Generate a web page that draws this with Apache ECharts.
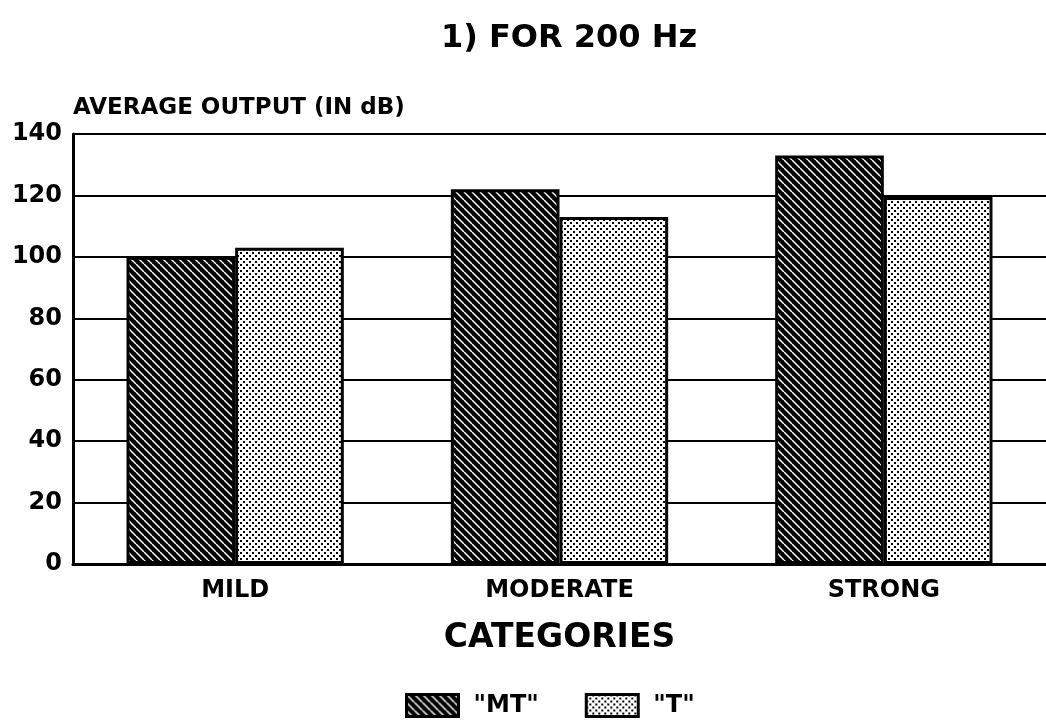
<!DOCTYPE html>
<html>
<head>
<meta charset="utf-8">
<script src="https://cdn.jsdelivr.net/npm/echarts@6/dist/echarts.min.js"></script>
<style>html,body{margin:0;padding:0;background:#fff}#c{width:1046px;height:725px}</style>
</head>
<body>
<div id="c"></div>
<script>
const categories = ['MILD', 'MODERATE', 'STRONG'];
const seriesNames = ['"MT"', '"T"'];
const mtValues = [100, 122, 133];
const tValues = [103, 113, 119.5];
const yTicks = [0, 20, 40, 60, 80, 100, 120, 140];

function hatchPattern() {
  const c = document.createElement('canvas');
  c.width = 8; c.height = 8;
  const g = c.getContext('2d');
  g.fillStyle = '#000'; g.fillRect(0, 0, 8, 8);
  g.strokeStyle = '#fff'; g.lineWidth = 1.5;
  for (let k = -8; k <= 16; k += 8) {
    g.beginPath(); g.moveTo(k, 0); g.lineTo(k + 8, 8); g.stroke();
  }
  return c;
}
function dotPattern() {
  const c = document.createElement('canvas');
  c.width = 6; c.height = 6;
  const g = c.getContext('2d');
  g.fillStyle = '#fff'; g.fillRect(0, 0, 6, 6);
  g.fillStyle = '#000';
  g.fillRect(0, 0, 2, 2);
  g.fillRect(3, 3, 2, 2);
  return c;
}
const mtFill = { image: hatchPattern(), repeat: 'repeat' };
const tFill = { image: dotPattern(), repeat: 'repeat' };

const fontFam = '"DejaVu Sans", "Liberation Sans", Arial, sans-serif';
const chart = echarts.init(document.getElementById('c'), null, { renderer: 'canvas' });
chart.setOption({
  animation: false,
  backgroundColor: '#fff',
  title: {
    text: '1) FOR 200 Hz',
    left: 564, top: 18, textAlign: 'center',
    textStyle: { fontFamily: fontFam, fontWeight: 'bold', fontSize: 32, color: '#000' }
  },
  legend: {
    left: 405, top: 693, padding: 0,
    icon: 'rect',
    itemWidth: 52, itemHeight: 22, itemGap: 46,
    data: seriesNames,
    itemStyle: { borderColor: '#000', borderWidth: 3 },
    textStyle: { fontFamily: fontFam, fontWeight: 'bold', fontSize: 24, color: '#000', padding: [0, 0, 0, 10] }
  },
  grid: { left: 73, right: -8, top: 134, bottom: 161, containLabel: false },
  xAxis: {
    type: 'category',
    data: categories,
    name: 'CATEGORIES',
    nameLocation: 'middle',
    nameGap: 58,
    nameTextStyle: { fontFamily: fontFam, fontWeight: 'bold', fontSize: 33, color: '#000' },
    axisLine: { lineStyle: { color: '#000', width: 3 } },
    axisTick: { show: false },
    axisLabel: { fontFamily: fontFam, fontWeight: 'bold', fontSize: 24, color: '#000', margin: 15 }
  },
  yAxis: {
    type: 'value',
    min: 0, max: 140, interval: 20,
    name: 'AVERAGE OUTPUT (IN dB)',
    nameLocation: 'end',
    nameGap: 14,
    nameTextStyle: { fontFamily: fontFam, fontWeight: 'bold', fontSize: 23, color: '#000', align: 'left' },
    axisLine: { show: true, lineStyle: { color: '#000', width: 3 } },
    axisTick: { show: false },
    splitLine: { lineStyle: { color: '#000', width: 2 } },
    axisLabel: {
      fontFamily: fontFam, fontWeight: 'bold', fontSize: 24, color: '#000',
      align: 'right', margin: 11,
      formatter: v => (yTicks.includes(v) ? String(v) : '')
    }
  },
  series: [
    {
      name: seriesNames[0], type: 'bar', data: mtValues,
      barGap: '0%', barCategoryGap: '33%',
      itemStyle: { color: mtFill, borderColor: '#000', borderWidth: 3 }
    },
    {
      name: seriesNames[1], type: 'bar', data: tValues,
      itemStyle: { color: tFill, borderColor: '#000', borderWidth: 3 }
    }
  ]
});
</script>
</body>
</html>
